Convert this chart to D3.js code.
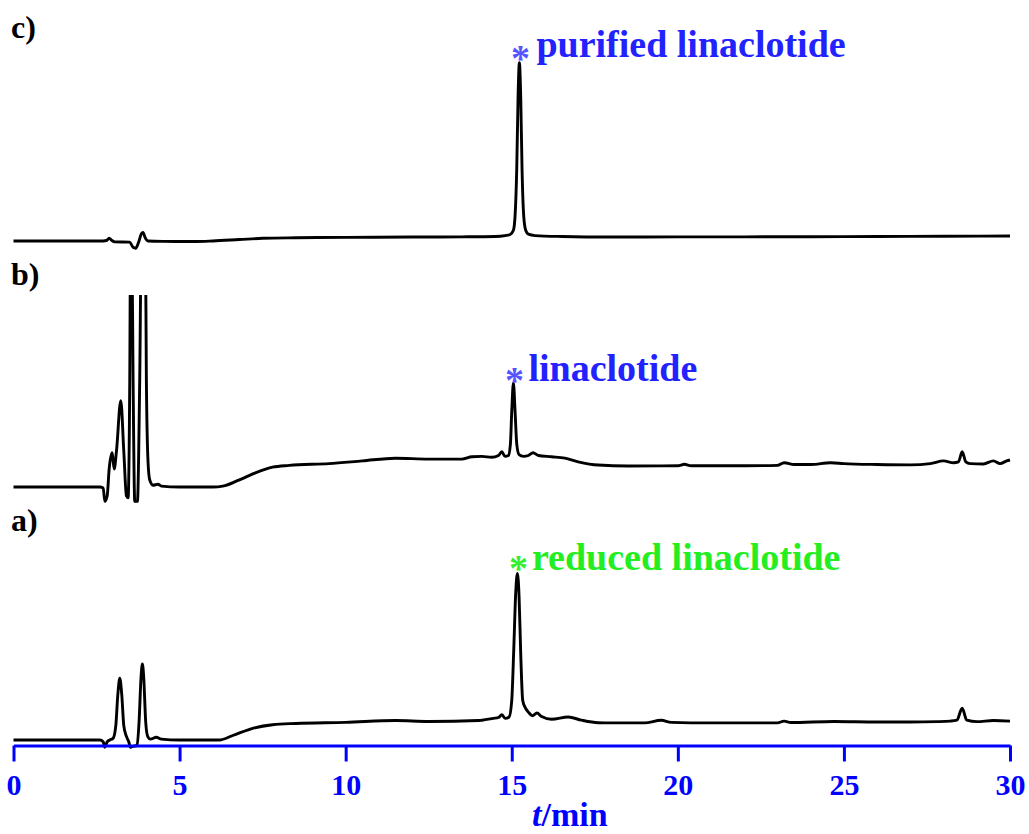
<!DOCTYPE html>
<html>
<head>
<meta charset="utf-8">
<script src="https://cdn.jsdelivr.net/npm/d3@7"></script>
<style>
  html, body { margin: 0; padding: 0; background: #fff; }
  svg { display: block; }
</style>
</head>
<body>
<svg id="chart" width="1029" height="834"></svg>
<script>
// HPLC traces: [retention time (min), detector response (mAU, relative to each trace's baseline)]
const traceC = [
  [0,0],[2.6,0],[2.8,0.3],[2.88,1.6],[2.95,0.5],[3.05,-0.5],[3.5,-0.6],[3.6,-3.5],[3.68,-4],
  [3.76,-1],[3.85,4],[3.9,4.8],[3.96,2],[4.05,0],[4.5,-0.2],[5.5,-0.3],[6.0,0],[6.8,0.8],
  [7.5,1.5],[8.5,1.8],[10,2],[12,2.2],[13.5,2.3],[14.5,2.5],[14.8,3],[14.95,3.6],[15.05,6],
  [15.1,14],[15.15,40],[15.19,80],[15.23,99],[15.27,80],[15.31,40],[15.36,14],[15.42,6],
  [15.5,3.8],[15.7,3],[16.5,2.5],[18,2.2],[20,2.3],[22,2.3],[24,2.4],[26,2.5],[28,2.6],[30,2.8]
];
const traceB = [
  [0,0],[2.6,0],[2.7,-0.5],[2.75,-8],[2.82,-5],[2.88,10],[2.97,19],[3.03,10],[3.1,20],
  [3.23,48],[3.32,20],[3.4,-5],[3.45,-6],[3.5,60],[3.525,140],[3.56,140],[3.6,60],[3.65,-8],
  [3.73,-8],[3.8,60],[3.85,140],[3.97,140],[4.0,60],[4.05,14],[4.1,4],[4.2,1],[4.35,1.5],
  [4.45,0.5],[5,0],[6,0],[6.3,0.5],[6.8,4],[7.3,8],[7.8,11],[8.3,12],[9.5,13],[10.5,14.5],
  [11.5,16],[12.5,15.5],[13.5,15.5],[13.8,16.8],[14.1,17],[14.4,16.5],[14.6,17.5],[14.7,19.6],
  [14.8,17],[14.9,17.5],[14.96,24],[15.0,42],[15.05,57.8],[15.1,42],[15.15,24],[15.22,18],
  [15.35,17],[15.5,17.5],[15.64,19],[15.8,17.5],[16.2,16.8],[16.6,16],[17.0,14],[17.6,12.2],
  [18.5,11.7],[20,11.8],[20.2,12.6],[20.4,11.8],[22,11.8],[23,12],[23.2,13.5],[23.5,12.5],
  [24,12.5],[24.6,13.5],[25,13],[26,12.5],[27,12.3],[27.6,13],[28,14.5],[28.3,13.5],
  [28.45,14],[28.56,19.6],[28.67,14],[28.8,13],[29.2,12.8],[29.5,14.5],[29.7,13],[29.9,14.5],[30,15]
];
const traceA = [
  [0,0],[2.6,0],[2.7,-1],[2.75,-4],[2.82,-1],[2.9,0],[3.0,1],[3.08,8],[3.14,25],[3.2,34.4],
  [3.26,25],[3.32,8],[3.4,2],[3.47,-1],[3.52,-4],[3.6,-3.5],[3.72,-3],[3.78,10],[3.84,35],
  [3.88,42.2],[3.92,35],[3.98,10],[4.04,2],[4.12,0.5],[4.3,1.5],[4.45,0.5],[5,0],[6.2,0],
  [6.6,2.5],[7.2,6.5],[7.8,8.5],[8.5,9.2],[10,9.8],[11.5,10.8],[12.5,10.3],[14,10.8],
  [14.1,11],[14.44,12],[14.6,12.5],[14.7,14],[14.8,12],[14.92,12.8],[15.0,22],[15.06,50],
  [15.12,82],[15.17,92.5],[15.22,80],[15.27,48],[15.33,22],[15.42,17.5],[15.5,15.5],
  [15.62,13.5],[15.76,15],[15.9,13],[16.2,11.5],[16.7,12.8],[17.1,11],[17.6,9.6],[18,9.5],
  [19,9.5],[19.5,11],[19.8,9.8],[21,9.5],[23,9.5],[23.2,10.5],[23.4,9.7],[24.7,10.3],[26,10],
  [27,10],[27.8,10.2],[28.2,10.5],[28.4,11],[28.56,17.6],[28.7,11],[29,10.2],[29.5,10.8],[30,10.5]
];

// Panel letters, annotated peaks and x axis ticks
const panelNames = ["c)", "b)", "a)"];
const peakLabels = ["purified linaclotide", "linaclotide", "reduced linaclotide"];
const peakTimes = [15.23, 15.05, 15.17];
const xTicks = [0, 5, 10, 15, 20, 25, 30];
const xTitle = ["t", "/min"];

const svg = d3.select("#chart");
const W = 1029;
const serif = "'Liberation Serif', 'Times New Roman', serif";

const x = d3.scaleLinear().domain([0, 30]).range([13.5, 1010]);

// Each trace gets its own vertical band; responses share the same units per pixel
const panels = [
  { name: panelNames[0], data: traceC, base: 241, labelY: 38, peakT: peakTimes[0], label: peakLabels[0],
    color: "#2222ff", star: "#5555ff", clip: [0, 260], starDy: -10, textDx: 17, textDy: -6 },
  { name: panelNames[1], data: traceB, base: 487, labelY: 285, peakT: peakTimes[1], label: peakLabels[1],
    color: "#2222ff", star: "#5555ff", clip: [295, 505], starDy: -8, textDx: 15, textDy: -1.5 },
  { name: panelNames[2], data: traceA, base: 740, labelY: 531, peakT: peakTimes[2], label: peakLabels[2],
    color: "#22ee22", star: "#33ee33", clip: [540, 752], starDy: -10.5, textDx: 14.5, textDy: -3.5 }
];

svg.append("rect").attr("width", W).attr("height", 834).attr("fill", "#fff");

const defs = svg.append("defs");

panels.forEach((p, i) => {
  const y = d3.scaleLinear().domain([0, 100]).range([p.base, p.base - 180]);

  defs.append("clipPath").attr("id", "clip" + i)
    .append("rect").attr("x", 0).attr("y", p.clip[0])
    .attr("width", W).attr("height", p.clip[1] - p.clip[0]);

  const line = d3.line()
    .x(d => x(d[0]))
    .y(d => y(d[1]))
    .curve(d3.curveMonotoneX);

  svg.append("path")
    .datum(p.data)
    .attr("clip-path", `url(#clip${i})`)
    .attr("d", line)
    .attr("fill", "none")
    .attr("stroke", "#000")
    .attr("stroke-width", 2.9)
    .attr("stroke-linejoin", "round");

  svg.append("text")
    .attr("x", 11).attr("y", p.labelY)
    .attr("font-family", serif).attr("font-weight", "bold").attr("font-size", 32)
    .attr("fill", "#000")
    .text(p.name);

  // peak annotation: asterisk above the apex, label to its right
  const apex = p.data.find(d => d[0] === p.peakT);
  const px = x(p.peakT);
  const py = y(apex[1]);
  svg.append("text")
    .attr("x", px + 1).attr("y", py + p.starDy + 18)
    .attr("text-anchor", "middle")
    .attr("font-family", serif).attr("font-weight", "bold").attr("font-size", 38)
    .attr("fill", p.star)
    .text("*");
  svg.append("text")
    .attr("x", px + p.textDx).attr("y", py + p.textDy)
    .attr("font-family", serif).attr("font-weight", "bold").attr("font-size", 38)
    .attr("fill", p.color)
    .text(p.label);
});

// x axis
const axisY = 745.5;
const axis = d3.axisBottom(x).tickValues(xTicks).tickSize(16).tickSizeOuter(0).tickPadding(12)
  .tickFormat(d3.format("d"));
const gAxis = svg.append("g").attr("transform", `translate(0,${axisY})`).call(axis);
gAxis.select(".domain").attr("stroke", "#0000ff").attr("stroke-width", 3.2);
gAxis.selectAll(".tick line").attr("stroke", "#0000ff").attr("stroke-width", 3);
gAxis.selectAll(".tick text")
  .attr("fill", "#0000ff")
  .attr("font-family", serif).attr("font-weight", "bold").attr("font-size", 30);

const title = svg.append("text")
  .attr("x", 532).attr("y", 826)
  .attr("font-family", serif).attr("font-weight", "bold").attr("font-size", 34)
  .attr("fill", "#0000ff");
title.append("tspan").attr("font-style", "italic").text(xTitle[0]);
title.append("tspan").text(xTitle[1]);
</script>
</body>
</html>
